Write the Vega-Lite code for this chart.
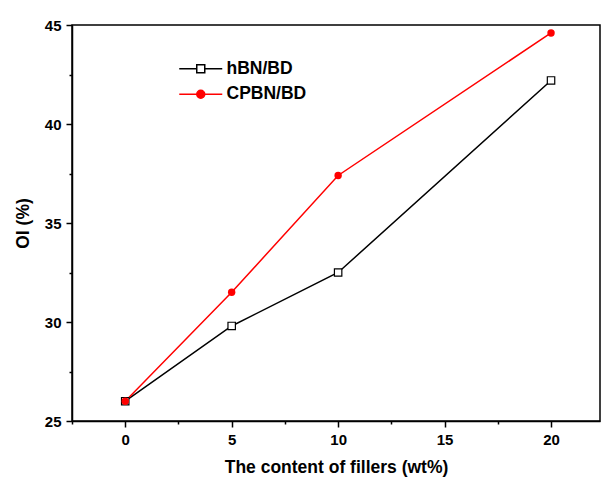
{
  "$schema": "https://vega.github.io/schema/vega-lite/v6.json",
  "width": 528,
  "height": 396,
  "autosize": {"type": "none"},
  "padding": {"left": 72, "top": 25, "right": 1, "bottom": 60},
  "background": "white",
  "config": {
    "view": {"stroke": "black", "strokeWidth": 1.5},
    "font": "Liberation Sans",
    "axis": {
      "grid": false,
      "domainColor": "black",
      "domainWidth": 1.5,
      "tickColor": "black",
      "tickWidth": 1.5,
      "labelFont": "Liberation Sans",
      "labelFontWeight": "bold",
      "labelFontSize": 15,
      "labelColor": "black",
      "titleFont": "Liberation Sans",
      "titleFontWeight": "bold",
      "titleFontSize": 17.5,
      "titleColor": "black"
    }
  },
  "data": {
    "values": [
      {"x": 0, "oi": 26.0, "series": "hBN/BD"},
      {"x": 5, "oi": 29.8, "series": "hBN/BD"},
      {"x": 10, "oi": 32.5, "series": "hBN/BD"},
      {"x": 20, "oi": 42.2, "series": "hBN/BD"},
      {"x": 0, "oi": 26.0, "series": "CPBN/BD"},
      {"x": 5, "oi": 31.5, "series": "CPBN/BD"},
      {"x": 10, "oi": 37.4, "series": "CPBN/BD"},
      {"x": 20, "oi": 44.6, "series": "CPBN/BD"}
    ]
  },
  "resolve": {"axis": {"x": "independent", "y": "independent"}},
  "layer": [
    {
      "mark": {"type": "line", "strokeWidth": 1.5},
      "encoding": {
        "x": {
          "field": "x", "type": "quantitative",
          "scale": {"domain": [-2.5, 22.3], "nice": false, "zero": false},
          "axis": {"orient": "bottom", "values": [0, 5, 10, 15, 20], "tickSize": 6, "labelPadding": 5, "title": "The content of fillers (wt%)", "titlePadding": 11}
        },
        "y": {
          "field": "oi", "type": "quantitative",
          "scale": {"domain": [25, 45], "nice": false, "zero": false},
          "axis": {"orient": "left", "values": [25, 30, 35, 40, 45], "tickSize": 6, "labelPadding": 5, "title": "OI (%)", "titlePadding": 12}
        },
        "color": {
          "field": "series", "type": "nominal",
          "scale": {"domain": ["hBN/BD", "CPBN/BD"], "range": ["black", "red"]},
          "legend": {
            "orient": "none",
            "legendX": 120,
            "legendY": 35,
            "title": null,
            "labelFont": "Liberation Sans",
            "labelFontWeight": "bold",
            "labelFontSize": 17.5,
            "labelColor": "black",
            "symbolSize": 100,
            "labelOffset": 17,
            "rowPadding": 6.5,
            "encode": {
              "symbols": {
                "update": {
                  "shape": {"signal": "datum.value === 'hBN/BD' ? 'M-4.3,0H-0.8M0.8,0H4.3M-0.8,-0.8H0.8V0.8H-0.8Z' : 'M-4.3,0H4.3M0.8,0A0.8,0.8,0,1,1,-0.8,0A0.8,0.8,0,1,1,0.8,0Z'"},
                  "fill": {"signal": "datum.value === 'hBN/BD' ? 'white' : 'red'"},
                  "strokeWidth": {"value": 1.5},
                  "size": {"value": 100},
                  "opacity": {"value": 1}
                }
              }
            }
          }
        },
        "order": {"field": "x", "type": "quantitative"}
      }
    },
    {
      "transform": [{"filter": "datum.series === 'hBN/BD'"}],
      "mark": {"type": "point", "shape": "square", "filled": false, "fill": "white", "stroke": "black", "strokeWidth": 1.2, "size": 55, "opacity": 1},
      "encoding": {
        "x": {"field": "x", "type": "quantitative", "axis": {"orient": "bottom", "values": [-2.5, 2.5, 7.5, 12.5, 17.5], "tickSize": 3, "labels": false, "domain": false, "title": null}},
        "y": {"field": "oi", "type": "quantitative", "axis": {"orient": "left", "values": [27.5, 32.5, 37.5, 42.5], "tickSize": 3, "labels": false, "domain": false, "title": null}}
      }
    },
    {
      "transform": [{"filter": "datum.series === 'CPBN/BD'"}],
      "mark": {"type": "point", "shape": "circle", "filled": true, "color": "red", "size": 55, "opacity": 1},
      "encoding": {
        "x": {"field": "x", "type": "quantitative", "axis": null},
        "y": {"field": "oi", "type": "quantitative", "axis": null}
      }
    }
  ]
}
